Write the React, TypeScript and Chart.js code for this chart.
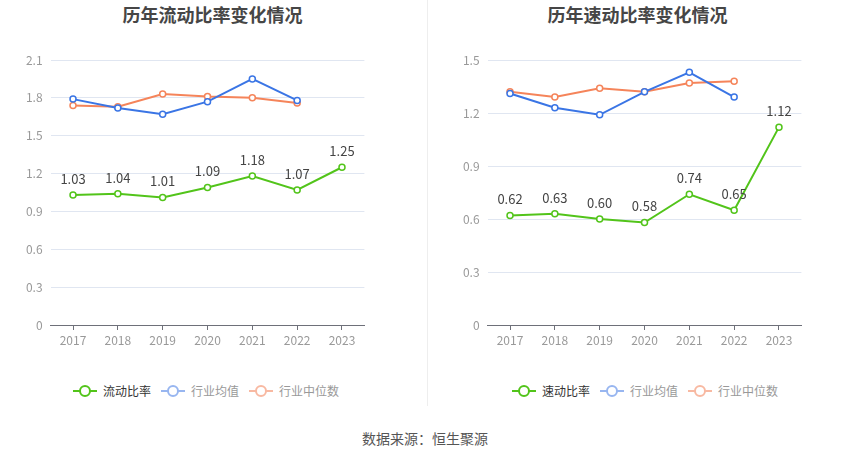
import { useEffect, useRef } from "react"
import { Chart, registerables } from "chart.js"

Chart.register(...registerables)

const years = ["2017", "2018", "2019", "2020", "2021", "2022", "2023"]

// 流动比率
const currentRatio = [1.03, 1.04, 1.01, 1.09, 1.18, 1.07, 1.25]
const currentIndustryAvg = [1.79, 1.72, 1.67, 1.77, 1.95, 1.78, null]
const currentIndustryMedian = [1.74, 1.73, 1.83, 1.81, 1.8, 1.76, null]

// 速动比率
const quickRatio = [0.62, 0.63, 0.6, 0.58, 0.74, 0.65, 1.12]
const quickIndustryAvg = [1.31, 1.23, 1.19, 1.32, 1.43, 1.29, null]
const quickIndustryMedian = [1.32, 1.29, 1.34, 1.32, 1.37, 1.38, null]

const GREEN = "#52c41a"
const BLUE = "#3a75e5"
const ORANGE = "#f5845a"
const FONT = "'Noto Sans CJK SC', 'Noto Sans', sans-serif"

// 绿色折线上的数值标签
const valueLabels = {
  id: "valueLabels",
  afterDatasetsDraw(chart: Chart) {
    const ctx = chart.ctx
    const meta = chart.getDatasetMeta(0)
    const data = chart.data.datasets[0].data as number[]
    ctx.save()
    ctx.font = `13px ${FONT}`
    ctx.fillStyle = "#444"
    ctx.textAlign = "center"
    ctx.textBaseline = "middle"
    meta.data.forEach((pt, i) => {
      ctx.fillText(data[i].toFixed(2), pt.x, pt.y - 16)
    })
    ctx.restore()
  },
}

type RatioChartProps = {
  left: number
  main: number[]
  avg: (number | null)[]
  median: (number | null)[]
  max: number
  yWidth: number
  padRight: number
}

function RatioChart({ left, main, avg, median, max, yWidth, padRight }: RatioChartProps) {
  const ref = useRef<HTMLCanvasElement>(null)

  useEffect(() => {
    if (!ref.current) return
    const line = (label: string, data: (number | null)[], color: string) => ({
      label,
      data,
      borderColor: color,
      backgroundColor: "#fff",
      borderWidth: 2,
      pointRadius: 3,
      pointBorderWidth: 1.5,
      pointBackgroundColor: "#fff",
      pointBorderColor: color,
      tension: 0,
    })
    const chart = new Chart(ref.current, {
      type: "line",
      data: {
        labels: years,
        datasets: [line("main", main, GREEN), line("avg", avg, BLUE), line("median", median, ORANGE)],
      },
      options: {
        animation: false,
        responsive: false,
        layout: { padding: { top: 20, right: padRight, left: 0, bottom: 0 } },
        plugins: { legend: { display: false }, tooltip: { enabled: false } },
        scales: {
          x: {
            offset: true,
            grid: { drawOnChartArea: false, drawTicks: true, tickLength: 5, color: "#6e7079" },
            border: { display: true, color: "#6e7079" },
            ticks: { color: "#999", font: { size: 12, family: FONT }, padding: 3, maxRotation: 0 },
            afterFit: (s: any) => {
              s.height = 25
            },
          },
          y: {
            min: 0,
            max,
            grid: { color: "#e0e6f1", drawTicks: false },
            border: { display: false },
            ticks: {
              stepSize: 0.3,
              color: "#999",
              padding: 8,
              font: { size: 12, family: FONT },
              callback: (v: any) => String(Number(Number(v).toFixed(1))),
            },
            afterFit: (s: any) => {
              s.width = yWidth
            },
          },
        },
      },
      plugins: [valueLabels],
    })
    return () => chart.destroy()
  }, [main, avg, median, max, yWidth, padRight])

  return (
    <canvas
      ref={ref}
      width={425}
      height={310}
      style={{ position: "absolute", left, top: 40, width: 425, height: 310 }}
    />
  )
}

function LegendItem({ color, text, textColor }: { color: string; text: string; textColor: string }) {
  return (
    <div style={{ display: "flex", alignItems: "center", marginRight: 10 }}>
      <div style={{ position: "relative", width: 24, height: 12, marginRight: 6 }}>
        <div style={{ position: "absolute", left: 0, top: 5, width: 24, height: 2, background: color }} />
        <div
          style={{
            position: "absolute",
            left: 6,
            top: 0,
            width: 8,
            height: 8,
            borderRadius: "50%",
            border: `2px solid ${color}`,
            background: "#fff",
          }}
        />
      </div>
      <span style={{ fontSize: 12, color: textColor }}>{text}</span>
    </div>
  )
}

function Legend({ left, first }: { left: number; first: string }) {
  return (
    <div style={{ position: "absolute", left, top: 382, display: "flex", fontFamily: FONT }}>
      <LegendItem color={GREEN} text={first} textColor="#333" />
      <LegendItem color="#98b6f0" text="行业均值" textColor="#999" />
      <LegendItem color="#f8b9a2" text="行业中位数" textColor="#999" />
    </div>
  )
}

const titleStyle = (left: number): React.CSSProperties => ({
  position: "absolute",
  left,
  top: 2,
  width: 425,
  textAlign: "center",
  fontFamily: FONT,
  fontWeight: "bold",
  fontSize: 18,
  color: "#464646",
  lineHeight: "24px",
})

export default function App() {
  return (
    <div
      style={{
        position: "fixed",
        left: 0,
        top: 0,
        width: 850,
        height: 459,
        background: "#fff",
        fontFamily: FONT,
        overflow: "hidden",
      }}
    >
      <div style={titleStyle(0)}>历年流动比率变化情况</div>
      <div style={titleStyle(425)}>历年速动比率变化情况</div>
      <div style={{ position: "absolute", left: 427, top: 0, width: 1, height: 406, background: "#eee" }} />
      <RatioChart
        left={0}
        main={currentRatio}
        avg={currentIndustryAvg}
        median={currentIndustryMedian}
        max={2.1}
        yWidth={50.6}
        padRight={60.6}
      />
      <RatioChart
        left={425}
        main={quickRatio}
        avg={quickIndustryAvg}
        median={quickIndustryMedian}
        max={1.5}
        yWidth={62.6}
        padRight={48.6}
      />
      <Legend left={73} first="流动比率" />
      <Legend left={512} first="速动比率" />
      <div
        style={{
          position: "absolute",
          left: 0,
          top: 428,
          width: 850,
          textAlign: "center",
          fontSize: 14,
          color: "#555",
        }}
      >
        数据来源：恒生聚源
      </div>
    </div>
  )
}
